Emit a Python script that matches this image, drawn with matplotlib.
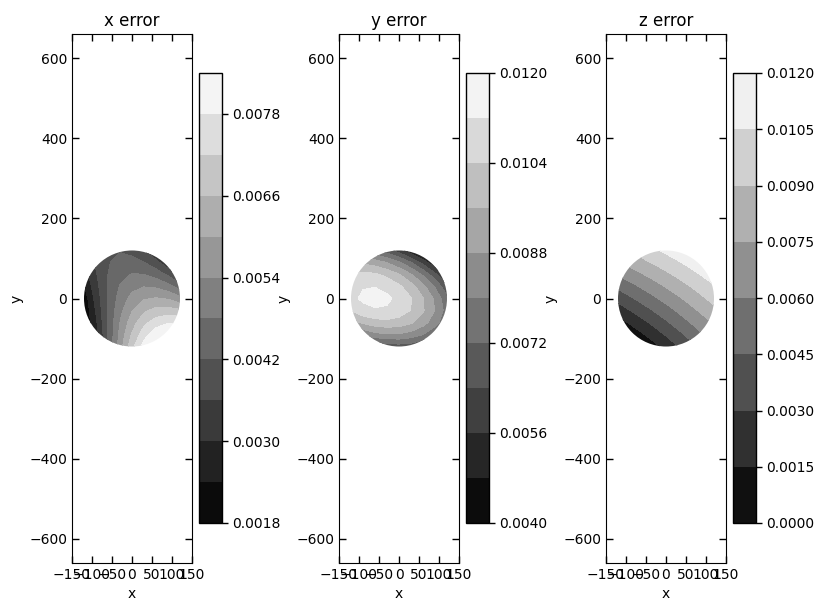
import numpy as np
import matplotlib
matplotlib.use('Agg')
import matplotlib.pyplot as plt
from matplotlib.patches import Circle

# grid of sample points across the disc (radius 120)
x_grid = [-120, -90, -60, -30, 0, 30, 60, 90, 120]
y_grid = [-120, -90, -60, -30, 0, 30, 60, 90, 120]

# error values, in units of 1e-3, rows go from y=-120 up to y=120
x_err = [
    [1.85, 2.48, 4.21, 5.72, 7.00, 8.06, 8.35, 8.35, 8.35],
    [1.85, 2.69, 4.24, 5.57, 6.67, 7.55, 8.20, 8.35, 8.35],
    [1.85, 2.89, 4.26, 5.41, 6.33, 7.03, 7.50, 7.75, 7.77],
    [1.85, 3.07, 4.26, 5.23, 5.97, 6.49, 6.78, 6.85, 6.69],
    [2.00, 3.24, 4.25, 5.04, 5.60, 5.94, 6.05, 5.94, 5.60],
    [2.34, 3.40, 4.23, 4.84, 5.22, 5.38, 5.31, 5.02, 4.50],
    [2.67, 3.55, 4.20, 4.63, 4.83, 4.81, 4.56, 4.09, 3.39],
    [2.98, 3.68, 4.15, 4.40, 4.42, 4.22, 3.79, 3.14, 2.26],
    [3.28, 3.80, 4.09, 4.16, 4.00, 3.62, 3.01, 2.18, 1.85],
]
y_err = [
    [5.08, 5.85, 6.40, 6.72, 6.81, 6.68, 6.32, 5.75, 4.94],
    [7.42, 8.09, 8.52, 8.74, 8.72, 8.48, 8.02, 7.33, 6.42],
    [9.19, 9.74, 10.07, 10.17, 10.05, 9.71, 9.13, 8.34, 7.31],
    [10.45, 10.95, 11.12, 11.10, 10.85, 10.36, 9.68, 8.77, 7.64],
    [11.00, 11.34, 11.45, 11.34, 11.00, 10.44, 9.65, 8.64, 7.40],
    [10.95, 11.15, 11.18, 10.98, 10.55, 9.94, 9.04, 7.93, 6.58],
    [10.51, 10.64, 10.53, 10.21, 9.65, 8.87, 7.87, 6.64, 5.19],
    [9.42, 9.43, 9.22, 8.78, 8.12, 7.24, 6.12, 4.79, 4.05],
    [7.74, 7.65, 7.32, 6.78, 6.01, 5.02, 4.05, 4.05, 4.05],
]
z_err = [
    [0.05, 0.05, 0.07, 1.03, 2.00, 2.97, 3.93, 4.90, 5.86],
    [0.05, 0.40, 1.32, 2.23, 3.14, 4.05, 4.96, 5.88, 6.79],
    [0.84, 1.70, 2.55, 3.41, 4.27, 5.13, 5.99, 6.84, 7.70],
    [2.17, 2.98, 3.78, 4.59, 5.39, 6.19, 7.00, 7.80, 8.61],
    [3.50, 4.25, 5.00, 5.75, 6.50, 7.25, 8.00, 8.75, 9.50],
    [4.81, 5.50, 6.20, 6.89, 7.59, 8.29, 8.98, 9.68, 10.37],
    [6.11, 6.75, 7.40, 8.04, 8.68, 9.32, 9.96, 10.61, 11.25],
    [7.40, 7.99, 8.57, 9.16, 9.75, 10.34, 10.93, 11.51, 11.95],
    [8.66, 9.20, 9.73, 10.27, 10.80, 11.33, 11.87, 11.95, 11.95],
]

titles = ['x error', 'y error', 'z error']

x_levels = [0.0018, 0.0024, 0.0030, 0.0036, 0.0042, 0.0048, 0.0054,
            0.0060, 0.0066, 0.0072, 0.0078, 0.0084]
y_levels = [0.0040, 0.0048, 0.0056, 0.0064, 0.0072, 0.0080, 0.0088,
            0.0096, 0.0104, 0.0112, 0.0120]
z_levels = [0.0000, 0.0015, 0.0030, 0.0045, 0.0060, 0.0075, 0.0090,
            0.0105, 0.0120]

x_ticks = [0.0018, 0.0030, 0.0042, 0.0054, 0.0066, 0.0078]
y_ticks = [0.0040, 0.0056, 0.0072, 0.0088, 0.0104, 0.0120]
z_ticks = z_levels

plt.rcParams['font.family'] = ['DejaVu Sans']
plt.rcParams['font.size'] = 10

fig = plt.figure(figsize=(8.15, 6.15), dpi=100)

panels = [
    (x_err, x_levels, x_ticks, 72),
    (y_err, y_levels, y_ticks, 339),
    (z_err, z_levels, z_ticks, 606),
]

W, H = 815.0, 615.0
for i, (vals, lv, tk, left_px) in enumerate(panels):
    ax = fig.add_axes([left_px / W, 1 - 563 / H, 120 / W, 529 / H])
    Z = np.array(vals) * 1e-3
    cs = ax.contourf(x_grid, y_grid, Z, levels=lv, cmap='gray')
    disc = Circle((0, 0), 120, transform=ax.transData)
    cs.set_clip_path(disc)

    ax.set_xlim(-150, 150)
    ax.set_ylim(-661, 661)
    ax.set_xticks([-150, -100, -50, 0, 50, 100, 150])
    ax.set_yticks([-600, -400, -200, 0, 200, 400, 600])
    ax.tick_params(direction='in', top=True, right=True, length=5, width=1)
    ax.set_xlabel('x')
    ax.set_ylabel('y')
    ax.set_title(titles[i], fontsize=12)

    cax = fig.add_axes([(left_px + 127) / W, 1 - 523 / H, 23 / W, 450 / H])
    cb = fig.colorbar(cs, cax=cax, ticks=tk, format='%.4f')
    cb.ax.tick_params(direction='out', length=4, width=1)
    cb.outline.set_linewidth(1)

fig.savefig('out.png', dpi=100)
